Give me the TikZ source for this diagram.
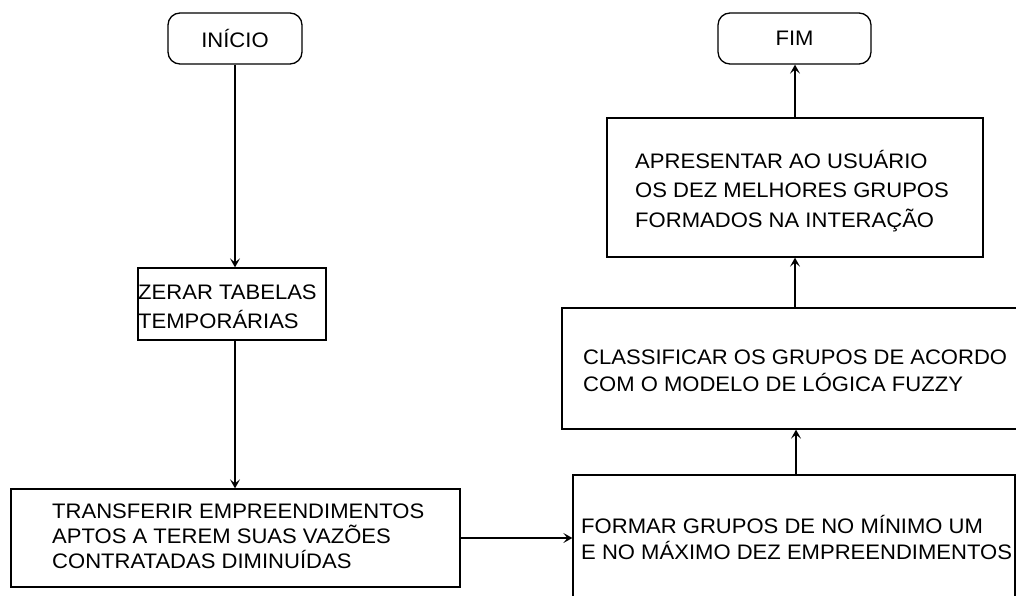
\documentclass[tikz,border=0pt]{standalone}
\usepackage{fontspec}
\setmainfont{Liberation Sans}[FakeStretch=1.05]
\usetikzlibrary{arrows.meta,calc}
\begin{document}
\begin{tikzpicture}[x=1pt,y=-1pt,
  box/.style={draw, line width=1.3pt, inner sep=0pt},
  term/.style={box, rounded corners=12pt, font=\fontsize{21}{25}\selectfont},
  lbl/.style={anchor=base west, inner sep=0pt},
  arr/.style={line width=1.3pt, -{Stealth[length=9pt,width=10pt,inset=4pt]}}]
\useasboundingbox (0,0) rectangle (1016,596);
\clip (0,0) rectangle (1016,596);
% boxes
\node[term, minimum width=134pt, minimum height=51pt] (inicio) at (235,38.5) {INÍCIO};
\node[term, minimum width=153pt, minimum height=51pt] (fim) at (794.5,38.5) {FIM};
\node[box, minimum width=188pt, minimum height=72pt] (zerar) at (232,304) {};
\node[box, minimum width=449pt, minimum height=98pt] (transf) at (235.5,538) {};
\node[box, minimum width=442pt, minimum height=145pt] (formar) at (794,547.5) {};
\node[box, minimum width=468pt, minimum height=121pt] (classif) at (796,368.5) {};
\node[box, minimum width=376pt, minimum height=139pt] (apres) at (795,187.5) {};
% texts
\node[lbl, font=\fontsize{21}{29}\selectfont] (tzerar) at (138,299)
  {\begin{tabular}[t]{@{}l@{}}ZERAR TABELAS\\TEMPORÁRIAS\end{tabular}};
\node[lbl, font=\fontsize{21}{23.5}\selectfont] (ttransf) at (52,518)
  {\begin{tabular}[t]{@{}l@{}}TRANSFERIR EMPREENDIMENTOS\\APTOS A TEREM SUAS VAZÕES\\CONTRATADAS DIMINUÍDAS\end{tabular}};
\node[lbl, font=\fontsize{21}{26}\selectfont] (tformar) at (581,533)
  {\begin{tabular}[t]{@{}l@{}}FORMAR GRUPOS DE NO MÍNIMO UM\\E NO MÁXIMO DEZ EMPREENDIMENTOS\end{tabular}};
\node[lbl, font=\fontsize{21}{27}\selectfont] (tclassif) at (583,364)
  {\begin{tabular}[t]{@{}l@{}}CLASSIFICAR OS GRUPOS DE ACORDO\\COM O MODELO DE LÓGICA FUZZY\end{tabular}};
\node[lbl, font=\fontsize{21}{29.5}\selectfont] (tapres) at (635,168)
  {\begin{tabular}[t]{@{}l@{}}APRESENTAR AO USUÁRIO\\OS DEZ MELHORES GRUPOS\\FORMADOS NA INTERAÇÃO\end{tabular}};
% connectors
\draw[arr] (inicio.south) -- (inicio.south |- zerar.north);
\draw[arr] (zerar.south -| inicio.south) -- (inicio.south |- transf.north);
\draw[arr] (transf.east) -- (transf.east -| formar.west);
\draw[arr] (classif.south |- formar.north) -- (classif.south);
\draw[arr] (classif.north -| apres.south) -- (apres.south);
\draw[arr] (apres.north) -- (apres.north |- fim.south);
\end{tikzpicture}
\end{document}
